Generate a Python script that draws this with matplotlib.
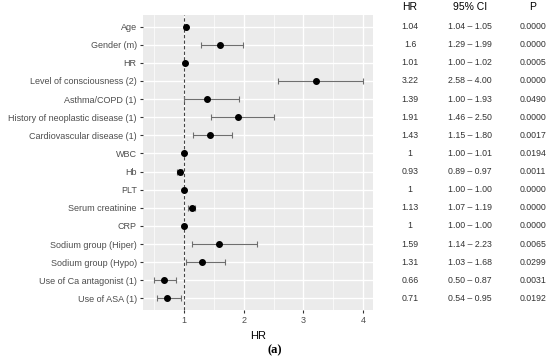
import matplotlib
matplotlib.use("Agg")
import matplotlib.pyplot as plt
from matplotlib.ticker import MultipleLocator

labels = ["Age", "Gender (m)", "HR", "Level of consciousness (2)", "Asthma/COPD (1)",
          "History of neoplastic disease (1)", "Cardiovascular disease (1)", "WBC", "Hb",
          "PLT", "Serum creatinine", "CRP", "Sodium group (Hiper)", "Sodium group (Hypo)",
          "Use of Ca antagonist (1)", "Use of ASA (1)"]
hr = [1.04, 1.6, 1.01, 3.22, 1.39, 1.91, 1.43, 1.0, 0.93, 1.0, 1.13, 1.0, 1.59, 1.31, 0.66, 0.71]
lo = [1.04, 1.29, 1.00, 2.58, 1.00, 1.46, 1.15, 1.00, 0.89, 1.00, 1.07, 1.00, 1.14, 1.03, 0.50, 0.54]
hi = [1.05, 1.99, 1.02, 4.00, 1.93, 2.50, 1.80, 1.01, 0.97, 1.00, 1.19, 1.00, 2.23, 1.68, 0.87, 0.95]
hr_txt = ["1.04", "1.6", "1.01", "3.22", "1.39", "1.91", "1.43", "1", "0.93", "1", "1.13", "1",
          "1.59", "1.31", "0.66", "0.71"]
p_txt = ["0.0000", "0.0000", "0.0005", "0.0000", "0.0490", "0.0000", "0.0017", "0.0194", "0.0011",
         "0.0000", "0.0000", "0.0000", "0.0065", "0.0299", "0.0031", "0.0192"]

plt.rcParams['font.family'] = ['Liberation Sans', 'DejaVu Sans']

fig = plt.figure(figsize=(5.5, 3.61), dpi=100)
ax = fig.add_axes([143/550, 1-310/361, 230/550, 295/361])
ax.set_facecolor("#EBEBEB")
for s in ax.spines.values():
    s.set_visible(False)

ys = list(range(len(labels)))
ax.set_xlim(0.313, 4.167)
ax.set_ylim(len(labels) - 1 + 0.64, -0.64)
ax.xaxis.set_major_locator(MultipleLocator(1))
ax.xaxis.set_minor_locator(MultipleLocator(0.5))
ax.grid(which="major", color="white", lw=1.0)
ax.grid(which="minor", axis="x", color="white", lw=0.5)
ax.set_axisbelow(True)
ax.tick_params(which="minor", length=0)
ax.tick_params(which="major", length=2.5, color="#333333", labelcolor="#4D4D4D", labelsize=6.5, pad=2)

ax.set_yticks(ys)
ax.set_yticklabels(labels)

ax.axvline(1, color="#444444", ls=(0, (3, 2)), lw=0.8, zorder=2)
xerr = [[h - l for h, l in zip(hr, lo)], [u - h for h, u in zip(hr, hi)]]
ax.errorbar(hr, ys, xerr=xerr, fmt="none", ecolor="#6E6E6E", elinewidth=0.8, capsize=2,
            capthick=0.8, zorder=3)
ax.plot(hr, ys, "o", color="black", ms=4, zorder=4)

ax.set_xlabel("HR", fontsize=8, labelpad=4, color="black")

tr = ax.get_yaxis_transform()
cols = [(410 - 143) / 230, (470 - 143) / 230, (533 - 143) / 230]
fs = 6.3
for i in ys:
    ax.text(cols[0], i, hr_txt[i], transform=tr, ha="center", va="center", fontsize=fs,
            color="#333333", clip_on=False)
    ax.text(cols[1], i, f"{lo[i]:.2f} \u2013 {hi[i]:.2f}", transform=tr, ha="center",
            va="center", fontsize=fs, color="#333333", clip_on=False)
    ax.text(cols[2], i, p_txt[i], transform=tr, ha="center", va="center", fontsize=fs,
            color="#333333", clip_on=False)
for x, t in zip([410, 470, 533], ["HR", "95% CI", "P"]):
    fig.text(x / 550, 1 - 7 / 361, t, ha="center", va="center", fontsize=7.5, color="black")

fig.text(275 / 550, 1 - 350 / 361, "(a)", ha="center", va="center", fontsize=9,
         fontweight="bold", family="Liberation Serif")

fig.savefig("out.png", dpi=100)
